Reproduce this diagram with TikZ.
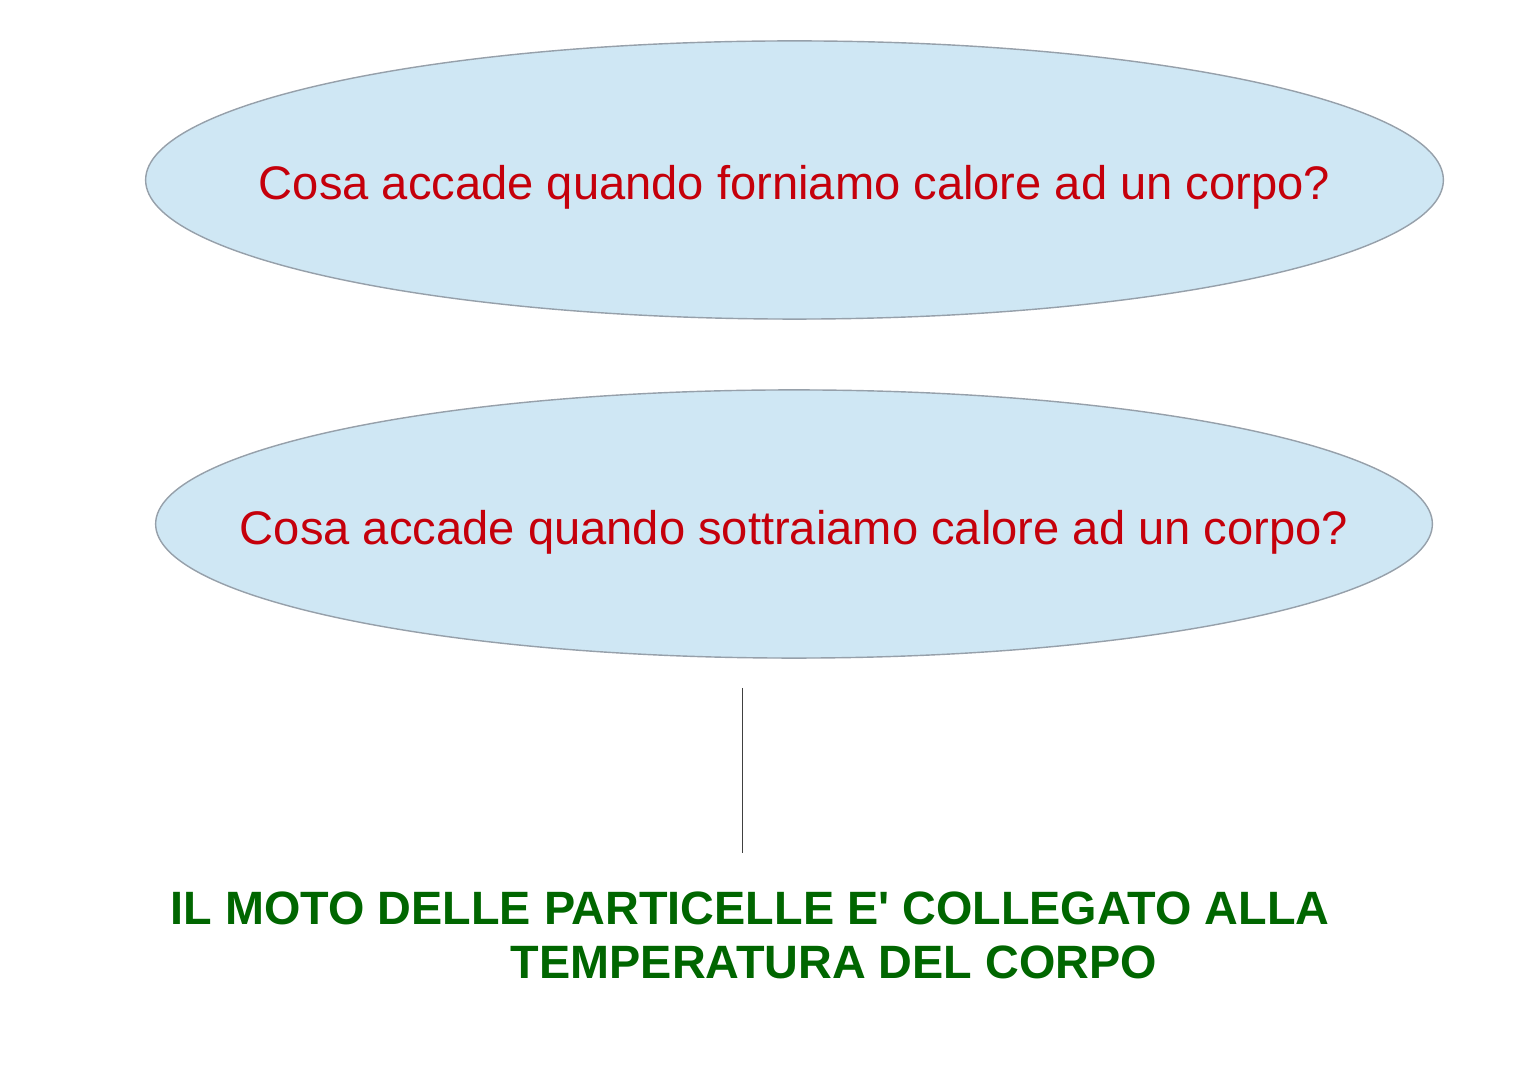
\documentclass[tikz,border=0pt]{standalone}
\usepackage{fontspec}
\setmainfont{Liberation Sans}
\usetikzlibrary{shapes.geometric}

\begin{document}
\begin{tikzpicture}[x=0.01cm,y=-0.01cm]

    % Define colors
    \definecolor{bubbleblue}{RGB}{207,231,244}
    \definecolor{bubbleline}{RGB}{150,160,170}
    \definecolor{questred}{RGB}{197,0,11}
    \definecolor{answgreen}{RGB}{0,102,0}

    \tikzset{
        question/.style={ellipse, fill=bubbleblue, draw=bubbleline, thin,
            inner sep=0pt, text=questred, font=\fontsize{13.4}{16}\selectfont},
    }
    \newcommand{\bubbletext}[1]{\makebox[0pt]{\raisebox{-0.2cm}[0pt][0pt]{#1}}}
    \newcommand{\straightquote}{\XeTeXglyph\XeTeXcharglyph"27\relax}

    \useasboundingbox (0,0) rectangle (1527,1080);

    \node[question, minimum width=12.97cm, minimum height=2.78cm] (forniamo) at (794.5,180) {\bubbletext{Cosa accade quando forniamo calore ad un corpo?}};
    \node[question, minimum width=12.76cm, minimum height=2.68cm] (sottraiamo) at (794,524) {\bubbletext{Cosa accade quando sottraiamo calore ad un corpo?}};

    \coordinate (linkTop) at (742,688);
    \coordinate (linkBot) at (742,853);
    \draw[black!75, very thin] (linkTop) -- (linkBot);

    \node[anchor=base west, inner sep=0pt, align=left, text=answgreen,
        font=\bfseries\fontsize{13.3}{15.4}\selectfont] (moto) at (170,979)
        {IL MOTO DELLE PARTICELLE E\straightquote{} COLLEGATO ALLA\\\hspace*{3.4cm}TEMPERATURA DEL CORPO};

\end{tikzpicture}
\end{document}
